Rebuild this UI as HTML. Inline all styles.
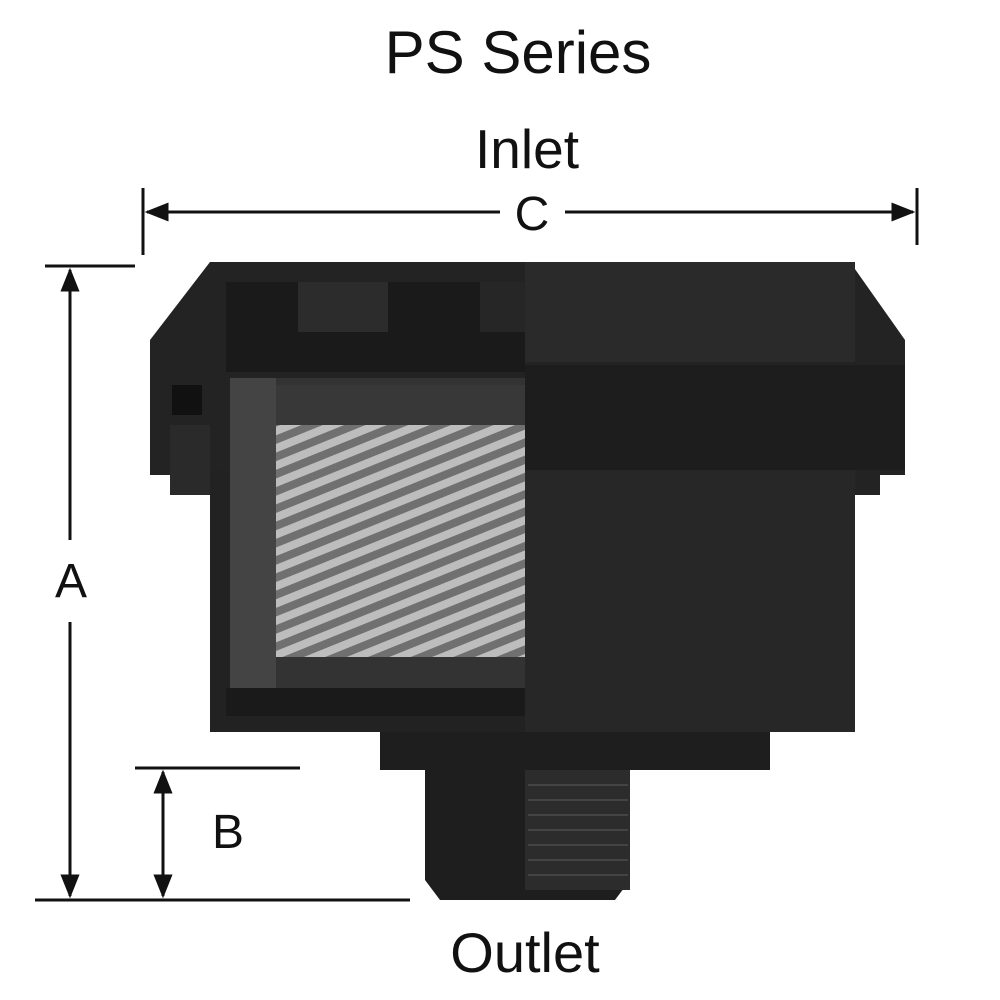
<!DOCTYPE html>
<html><head><style>
html,body{margin:0;padding:0;background:#fff;}
svg{display:block;}
text{font-family:"Liberation Sans",sans-serif;fill:#111;}
</style></head><body>
<svg width="1000" height="1000" viewBox="0 0 1000 1000" xmlns="http://www.w3.org/2000/svg">
<defs>
<pattern id="mesh" patternUnits="userSpaceOnUse" width="16" height="16" patternTransform="rotate(-22)">
<rect width="16" height="16" fill="#707070"/>
<rect y="3" width="16" height="8" fill="#bdbdbd"/>
</pattern>
<marker id="ar" viewBox="0 0 10 10" refX="9" refY="5" markerWidth="8" markerHeight="8" orient="auto-start-reverse"><path d="M0,1 L10,5 L0,9 z" fill="#111"/></marker>
</defs>
<text x="518" y="73" font-size="60" text-anchor="middle">PS Series</text>
<text x="527" y="168" font-size="55" text-anchor="middle">Inlet</text>
<text x="532" y="230" font-size="48" text-anchor="middle">C</text>
<text x="71" y="597" font-size="48" text-anchor="middle">A</text>
<text x="228" y="848" font-size="48" text-anchor="middle">B</text>
<text x="525" y="972" font-size="56" text-anchor="middle">Outlet</text>
<g stroke="#111" stroke-width="3" fill="none">
<line x1="143" y1="188" x2="143" y2="255"/><line x1="917" y1="188" x2="917" y2="245"/>
<line x1="147" y1="212" x2="500" y2="212" marker-start="url(#ar)"/>
<line x1="565" y1="212" x2="913" y2="212" marker-end="url(#ar)"/>
<line x1="45" y1="266" x2="135" y2="266"/><line x1="35" y1="900" x2="410" y2="900"/>
<line x1="70" y1="270" x2="70" y2="540" marker-start="url(#ar)"/>
<line x1="70" y1="622" x2="70" y2="896" marker-end="url(#ar)"/>
<line x1="135" y1="768" x2="300" y2="768"/>
<line x1="163" y1="772" x2="163" y2="896" marker-start="url(#ar)" marker-end="url(#ar)"/>
</g>
<path d="M380,730 L770,730 L770,770 L630,770 L630,880 L615,900 L440,900 L425,880 L425,770 L380,770 Z" fill="#1e1e1e"/>
<rect x="525" y="770" width="105" height="120" fill="#2c2c2c"/>
<g stroke="#444" stroke-width="2">
<line x1="528" y1="785" x2="628" y2="785"/><line x1="528" y1="800" x2="628" y2="800"/><line x1="528" y1="815" x2="628" y2="815"/><line x1="528" y1="830" x2="628" y2="830"/><line x1="528" y1="845" x2="628" y2="845"/><line x1="528" y1="860" x2="628" y2="860"/><line x1="528" y1="875" x2="628" y2="875"/>
</g>
<rect x="210" y="470" width="645" height="262" fill="#222"/>
<rect x="525" y="470" width="330" height="262" fill="#272727"/>
<path d="M210,262 L850,262 L905,340 L905,475 L880,475 L880,495 L855,495 L855,470 L210,470 L210,495 L170,495 L170,475 L150,475 L150,340 Z" fill="#232323"/>
<rect x="525" y="262" width="330" height="100" fill="#2a2a2a"/>
<rect x="525" y="365" width="380" height="105" fill="#1d1d1d"/>
<rect x="226" y="282" width="299" height="90" fill="#1a1a1a"/>
<rect x="298" y="282" width="90" height="50" fill="#2c2c2c"/>
<rect x="480" y="282" width="45" height="50" fill="#262626"/>
<rect x="230" y="378" width="295" height="310" fill="#333"/>
<rect x="230" y="378" width="46" height="310" fill="#444"/>
<rect x="276" y="385" width="249" height="40" fill="#383838"/>
<rect x="276" y="425" width="249" height="232" fill="url(#mesh)"/>
<rect x="226" y="688" width="299" height="28" fill="#1a1a1a"/>
<rect x="172" y="385" width="30" height="30" fill="#111"/>
<rect x="170" y="425" width="40" height="70" fill="#2a2a2a"/>
</svg>
</body></html>
